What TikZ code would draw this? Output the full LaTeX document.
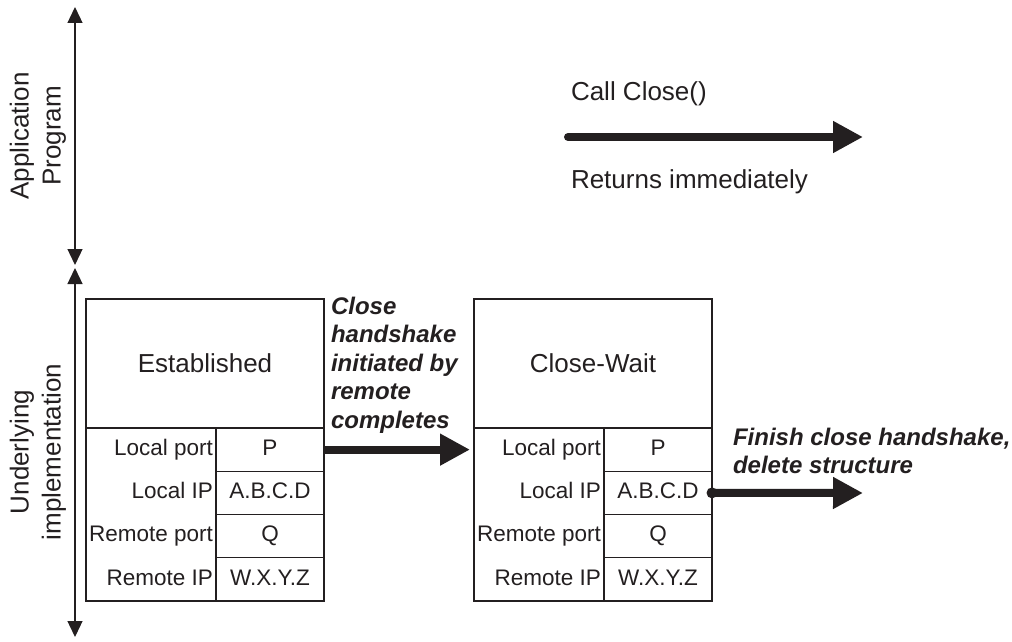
\documentclass[tikz,border=0pt]{standalone}
\usepackage{fontspec}
\setmainfont{Liberation Sans}
\usetikzlibrary{arrows.meta,positioning}
\definecolor{ink}{RGB}{35,31,32}
\begin{document}
\begin{tikzpicture}[x=1pt,y=-1pt,
  every node/.style={inner sep=0pt, outer sep=0pt, text=ink},
  frame/.style={draw=ink, line width=1.2pt},
  title/.style={font=\fontsize{26}{32}\selectfont},
  celltext/.style={font=\fontsize{22.5}{27}\selectfont, text height=16pt, text depth=4.5pt},
  note/.style={font=\fontsize{24}{28.5}\selectfont\bfseries\itshape, align=left, anchor=west},
  axis/.style={draw=ink, line width=1.3pt,
    {Triangle[length=16pt,width=15pt]}-{Triangle[length=16pt,width=15pt]}},
  bigarrow/.style={draw=ink, line width=8pt, -{Triangle[length=30pt,width=30pt]}},
]
\useasboundingbox (0,0) rectangle (1012,642);

% layer axes on the left
\coordinate (apptop) at (75,7);
\coordinate (appbot) at (75,265);
\coordinate (imptop) at (75,268);
\coordinate (impbot) at (75,637);
\draw[axis] (apptop) -- (appbot);
\draw[axis] (imptop) -- (impbot);
\node[title, rotate=90, align=center] (applbl) at (38,136) {Application\\Program};
\node[title, rotate=90, align=center] (implbl) at (38,452) {Underlying\\implementation};

% connection state records
\foreach \pre/\xx/\ttl in {est/86/Established, cw/474/Close-Wait}{
  \node[frame, title, minimum width=238pt, minimum height=129pt, anchor=north west]
    (\pre-head) at (\xx,299) {\ttl};
  \node[frame, minimum width=130pt, minimum height=173pt, anchor=north west]
    (\pre-keys) at (\pre-head.south west) {};
  \node[frame, celltext, minimum width=108pt, minimum height=43.25pt, anchor=north west]
    (\pre-v1) at (\pre-keys.north east) {P};
  \node[frame, celltext, minimum width=108pt, minimum height=43.25pt, anchor=north west]
    (\pre-v2) at (\pre-v1.south west) {A.B.C.D};
  \node[frame, celltext, minimum width=108pt, minimum height=43.25pt, anchor=north west]
    (\pre-v3) at (\pre-v2.south west) {Q};
  \node[frame, celltext, minimum width=108pt, minimum height=43.25pt, anchor=north west]
    (\pre-v4) at (\pre-v3.south west) {W.X.Y.Z};
  \node[celltext, left=3pt of \pre-v1] (\pre-k1) {Local port};
  \node[celltext, left=3pt of \pre-v2] (\pre-k2) {Local IP};
  \node[celltext, left=3pt of \pre-v3] (\pre-k3) {Remote port};
  \node[celltext, left=3pt of \pre-v4] (\pre-k4) {Remote IP};
}

% application call
\coordinate (callstart) at (568,137);
\coordinate (callend) at (863,137);
\draw[bigarrow, line cap=round] (callstart) -- (callend);
\node[title, anchor=west] (calllbl) at (571,94) {Call Close()};
\node[title, anchor=west] (retlbl) at (571,182) {Returns immediately};

% transition Established -> Close-Wait
\draw[bigarrow, shorten >=4pt] (est-v1.east) -- (cw-keys.west |- est-v1.east);
\node[note] (remlbl) at (331,365)
  {Close\\handshake\\initiated by\\remote\\completes};

% final transition
\coordinate (finend) at (863,493);
\fill[ink] (cw-v2.east) circle (5.5pt);
\draw[bigarrow, line cap=round] (cw-v2.east) -- (finend);
\node[note] (finlbl) at (733,451) {Finish close handshake,\\delete structure};
\end{tikzpicture}
\end{document}
